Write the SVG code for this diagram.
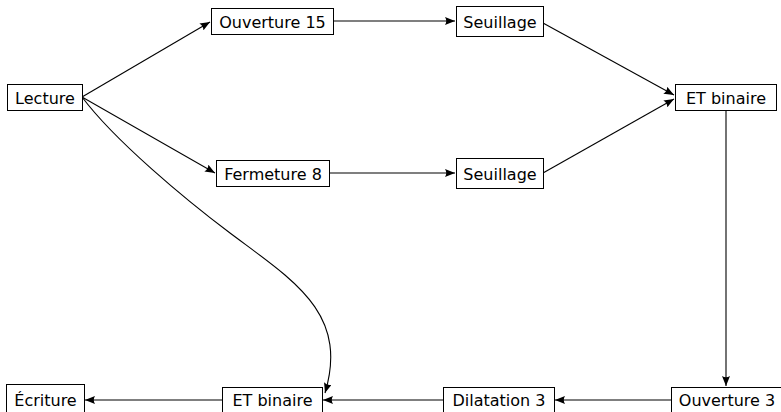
<svg xmlns="http://www.w3.org/2000/svg" width="781" height="412" viewBox="0 0 781 412">
<defs>
<style>
.box{fill:#fff;stroke:#000;stroke-width:1}
.lbl{font-family:"DejaVu Sans",sans-serif;font-size:16px;fill:#000;text-anchor:middle}
.edge{fill:none;stroke:#000;stroke-width:1.1;marker-end:url(#arr)}
</style>
<marker id="arr" viewBox="0 0 10 8" refX="10" refY="4" markerWidth="10" markerHeight="8" markerUnits="userSpaceOnUse" orient="auto">
<path d="M10,4 L0,0 Q2.5,4 0,8 Z" fill="#000"/>
</marker>
</defs>
<rect width="781" height="412" fill="#fff"/>
<g id="connectors">
<path class="edge" d="M82,97 L210,22"/>
<path class="edge" d="M82,97 L215,173"/>
<path class="edge" d="M333,21 L455,21"/>
<path class="edge" d="M329,173 L455,173"/>
<path class="edge" d="M543,23 L674,95"/>
<path class="edge" d="M543,173 L674,99"/>
<path class="edge" d="M726,110 L726,386"/>
<path class="edge" d="M671,400 L555,400"/>
<path class="edge" d="M443,400 L323,400"/>
<path class="edge" d="M222,400 L85,400"/>
<path class="edge" d="M82,97 C115,141 186,200 230,233 C294,281 349,313 325,393"/>
</g>
<g id="lecture"><rect class="box" x="7.5" y="84.5" width="75" height="26"/><text class="lbl" x="45" y="104">Lecture</text></g>
<g id="ouverture15"><rect class="box" x="211.5" y="8.5" width="122" height="26"/><text class="lbl" x="272.5" y="28">Ouverture 15</text></g>
<g id="fermeture8"><rect class="box" x="216.5" y="160.5" width="113" height="26"/><text class="lbl" x="273" y="180">Fermeture 8</text></g>
<g id="seuillage1"><rect class="box" x="456.5" y="6.5" width="87" height="30"/><text class="lbl" x="500" y="28">Seuillage</text></g>
<g id="seuillage2"><rect class="box" x="456.5" y="158.5" width="87" height="30"/><text class="lbl" x="500" y="180">Seuillage</text></g>
<g id="etbinaire1"><rect class="box" x="675.5" y="84.5" width="101" height="26"/><text class="lbl" x="726" y="104">ET binaire</text></g>
<g id="ouverture3"><rect class="box" x="671.5" y="387.5" width="113" height="27"/><text class="lbl" x="727" y="406">Ouverture 3</text></g>
<g id="dilatation3"><rect class="box" x="443.5" y="387.5" width="111" height="27"/><text class="lbl" x="499" y="406">Dilatation 3</text></g>
<g id="etbinaire2"><rect class="box" x="222.5" y="387.5" width="100" height="27"/><text class="lbl" x="272.5" y="406">ET binaire</text></g>
<g id="ecriture"><rect class="box" x="6.5" y="384.5" width="78" height="30"/><text class="lbl" x="45.5" y="406">Écriture</text></g>
</svg>
